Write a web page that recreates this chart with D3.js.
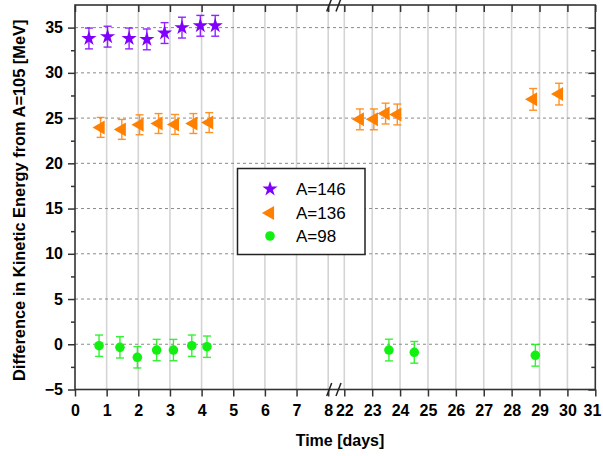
<!DOCTYPE html>
<html><head><meta charset="utf-8">
<script src="https://cdn.jsdelivr.net/npm/d3@7"></script>
<style>body{margin:0;background:#fff}svg{display:block}</style>
</head><body><svg id="c" width="603" height="456"></svg>
<script>
// ---- data ----
const xTicks = [0,1,2,3,4,5,6,7,8,22,23,24,25,26,27,28,29,30,31];
const yTicks = [-5,0,5,10,15,20,25,30,35];
const yMinorTicks = [-2.5,2.5,7.5,12.5,17.5,22.5,27.5,32.5];

const a146Time  = [0.44,1.03,1.71,2.27,2.83,3.38,3.96,4.43];
const a146Value = [33.8,34.0,33.8,33.7,34.4,35.0,35.2,35.2];
const a146Err   = [1.15,1.15,1.15,1.15,1.15,1.15,1.15,1.15];

const a136Time  = [0.81,1.48,2.04,2.64,3.16,3.74,4.24,22.56,23.06,23.48,23.90,28.77,29.70];
const a136Value = [23.97,23.75,24.26,24.4,24.3,24.4,24.5,24.86,24.86,25.5,25.4,27.07,27.65];
const a136Err   = [1.1,1.1,1.1,1.1,1.1,1.1,1.1,1.15,1.15,1.15,1.15,1.2,1.2];

const a98Time   = [0.76,1.42,1.97,2.58,3.11,3.69,4.17,23.6,24.51,28.85];
const a98Value  = [-0.16,-0.34,-1.44,-0.64,-0.64,-0.16,-0.27,-0.64,-0.89,-1.22];
const a98Err    = [1.18,1.18,1.18,1.18,1.18,1.18,1.18,1.2,1.2,1.2];

const seriesNames = ["A=146","A=136","A=98"];
const colors = ["#7F00FF","#FF8000","#11F011"];

// ---- layout ----
const svg = d3.select("#c");
const L=75, R=595.3, T=5, B=389.5;
const x = d3.scaleLinear().domain([0,8,22,31]).range([L,328.2,344.3,R]);
const y = d3.scaleLinear().domain([-5,37.5]).range([B,T]);

// grid
svg.append("g").selectAll("line").data(xTicks.filter(d=>d!==0 && d!==31)).join("line")
  .attr("x1",d=>x(d)).attr("x2",d=>x(d)).attr("y1",T).attr("y2",B)
  .attr("stroke","#d4d4d4").attr("stroke-width",1.6);
svg.append("g").selectAll("line").data(yTicks.filter(d=>d>-5)).join("line")
  .attr("x1",L).attr("x2",R).attr("y1",d=>y(d)).attr("y2",d=>y(d))
  .attr("stroke","#8a8a8a").attr("stroke-width",1).attr("stroke-dasharray","3,3");

// axes
const font = "'Liberation Sans', Arial, sans-serif";
const gx = svg.append("g").attr("transform",`translate(0,${B})`)
  .call(d3.axisBottom(x).tickValues(xTicks).tickSize(7).tickPadding(8).tickFormat(d3.format("d")));
const gxt = svg.append("g").attr("transform",`translate(0,${T})`)
  .call(d3.axisBottom(x).tickValues(xTicks).tickSize(7).tickFormat(""));
const gy = svg.append("g").attr("transform",`translate(${L},0)`)
  .call(d3.axisLeft(y).tickValues(yTicks).tickSize(7).tickPadding(5).tickFormat(d3.format("d")));
const gym = svg.append("g").attr("transform",`translate(${L},0)`)
  .call(d3.axisLeft(y).tickValues(yMinorTicks).tickSize(4).tickFormat(""));
const gyr = svg.append("g").attr("transform",`translate(${R},0)`)
  .call(d3.axisLeft(y).tickValues(yTicks).tickSize(7).tickFormat(""));
const gyrm = svg.append("g").attr("transform",`translate(${R},0)`)
  .call(d3.axisLeft(y).tickValues(yMinorTicks).tickSize(4).tickFormat(""));
[gx,gxt,gy,gym,gyr,gyrm].forEach(g=>{
  g.select(".domain").remove();
  g.selectAll(".tick line").attr("stroke","#333").attr("stroke-width",1.5);
  g.selectAll("text").attr("font-family",font).attr("font-weight","bold")
   .attr("font-size","16px").attr("fill","#000");
});
// keep the last label inside the window
gx.selectAll(".tick text").filter(d=>d===31).attr("text-anchor","end").attr("x",5.5);

// frame
svg.append("rect").attr("x",L).attr("y",T).attr("width",R-L).attr("height",B-T)
  .attr("fill","none").attr("stroke","#333").attr("stroke-width",1.6);

// break marks
[T,B].forEach(yy=>{
  [0,9.3].forEach(off=>{
    svg.append("line").attr("x1",x(8)-1.5+off).attr("y1",yy+6.5)
      .attr("x2",x(8)+3.5+off).attr("y2",yy-6.5)
      .attr("stroke","#222").attr("stroke-width",1.5);
  });
});

// series
function drawSeries(times, vals, errs, color, symbol, size, rot){
  const g = svg.append("g");
  const data = times.map((t,i)=>({t, v:vals[i], e:errs[i]}));
  const eb = g.selectAll("g.eb").data(data).join("g").attr("stroke",color)
    .attr("stroke-width",1.4).attr("opacity",0.85);
  eb.append("line").attr("x1",d=>x(d.t)).attr("x2",d=>x(d.t))
    .attr("y1",d=>y(d.v+d.e)).attr("y2",d=>y(d.v-d.e));
  eb.append("line").attr("x1",d=>x(d.t)-4).attr("x2",d=>x(d.t)+4)
    .attr("y1",d=>y(d.v+d.e)).attr("y2",d=>y(d.v+d.e));
  eb.append("line").attr("x1",d=>x(d.t)-4).attr("x2",d=>x(d.t)+4)
    .attr("y1",d=>y(d.v-d.e)).attr("y2",d=>y(d.v-d.e));
  g.selectAll("path").data(data).join("path")
    .attr("d",d3.symbol().type(symbol).size(size))
    .attr("transform",d=>`translate(${x(d.t)},${y(d.v)}) rotate(${rot})`)
    .attr("fill",color);
}
const symbols = [d3.symbolStar, d3.symbolTriangle, d3.symbolCircle];
const sizes = [72, 85, 72];
const rots = [0, -90, 0];
drawSeries(a146Time,a146Value,a146Err,colors[0],symbols[0],sizes[0],rots[0]);
drawSeries(a136Time,a136Value,a136Err,colors[1],symbols[1],sizes[1],rots[1]);
drawSeries(a98Time,a98Value,a98Err,colors[2],symbols[2],sizes[2],rots[2]);

// legend
const lg = svg.append("g");
lg.append("rect").attr("x",237.5).attr("y",168.5).attr("width",127.5).attr("height",86)
  .attr("fill","#fff").attr("stroke","#222").attr("stroke-width",1.5);
const rowsY = [189,213,236];
seriesNames.forEach((n,i)=>{
  lg.append("path").attr("d",d3.symbol().type(symbols[i]).size(sizes[i])())
    .attr("transform",`translate(270,${rowsY[i]}) rotate(${rots[i]})`).attr("fill",colors[i]);
  lg.append("text").attr("x",296).attr("y",rowsY[i]).attr("dy","0.36em")
    .attr("font-family",font).attr("font-size","17px").attr("fill","#000").text(n);
});

// axis titles
svg.append("text").attr("x",340).attr("y",446).attr("text-anchor","middle")
  .attr("font-family",font).attr("font-weight","bold").attr("font-size","16px").text("Time [days]");
svg.append("text").attr("transform",`translate(25,${(T+B)/2+3}) rotate(-90)`).attr("text-anchor","middle")
  .attr("font-family",font).attr("font-weight","bold").attr("font-size","16.4px")
  .text("Difference in Kinetic Energy from A=105 [MeV]");
</script></body></html>
